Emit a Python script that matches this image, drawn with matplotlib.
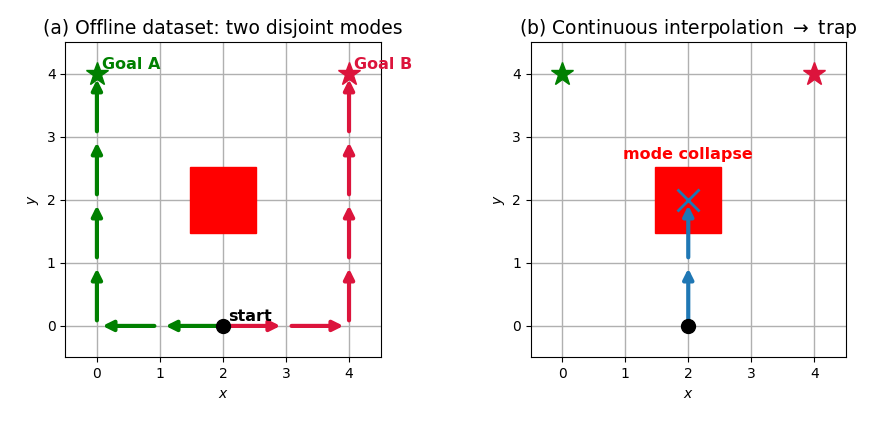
import matplotlib
matplotlib.use('Agg')
import matplotlib.pyplot as plt
from matplotlib.patches import Rectangle

start = (2, 0)
goal_a = (0, 4)
goal_b = (4, 4)
obstacle_center = (2, 2)
obstacle_size = 1.05
path_a = [(2, 0), (1, 0), (0, 0), (0, 1), (0, 2), (0, 3), (0, 4)]
path_b = [(2, 0), (3, 0), (4, 0), (4, 1), (4, 2), (4, 3), (4, 4)]
path_interp = [(2, 0), (2, 1), (2, 2)]


def draw_path(ax, pts, color):
    for (x0, y0), (x1, y1) in zip(pts[:-1], pts[1:]):
        ax.annotate('', xy=(x1, y1), xytext=(x0, y0),
                    arrowprops=dict(arrowstyle='-|>', color=color, lw=3,
                                    mutation_scale=15, shrinkA=4, shrinkB=4),
                    zorder=3)


def setup(ax, title):
    ax.set_xlim(-0.5, 4.5)
    ax.set_ylim(-0.5, 4.5)
    ax.set_aspect('equal')
    ax.grid(True, color='#b0b0b0', lw=1)
    ax.set_axisbelow(True)
    ax.set_xticks(range(5))
    ax.set_yticks(range(5))
    ax.set_xlabel('$x$')
    ax.set_ylabel('$y$')
    ax.set_title(title, fontsize=13.5)
    cx, cy = obstacle_center
    ax.add_patch(Rectangle((cx - obstacle_size / 2, cy - obstacle_size / 2),
                           obstacle_size, obstacle_size, color='red', zorder=2))


fig, (ax1, ax2) = plt.subplots(1, 2, figsize=(8.96, 4.23), dpi=100)
fig.subplots_adjust(left=0.066, right=0.951, bottom=0.155, top=0.9, wspace=0.42)

setup(ax1, '(a) Offline dataset: two disjoint modes')
draw_path(ax1, path_a, 'green')
draw_path(ax1, path_b, 'crimson')
ax1.plot(*start, 'o', color='black', ms=10, zorder=4)
ax1.text(2.08, 0.08, 'start', fontweight='bold', fontsize=11.5)
ax1.plot(*goal_a, '*', color='green', ms=17, zorder=4)
ax1.plot(*goal_b, '*', color='crimson', ms=17, zorder=4)
ax1.text(0.08, 4.08, 'Goal A', color='green', fontweight='bold', fontsize=11.5)
ax1.text(4.08, 4.08, 'Goal B', color='crimson', fontweight='bold', fontsize=11.5)

setup(ax2, r'(b) Continuous interpolation $\rightarrow$ trap')
draw_path(ax2, path_interp, '#1f77b4')
ax2.plot(*start, 'o', color='black', ms=10, zorder=4)
ax2.plot(*path_interp[-1], 'x', color='#1f77b4', ms=16, mew=2, zorder=4)
ax2.plot(*goal_a, '*', color='green', ms=17, zorder=4)
ax2.plot(*goal_b, '*', color='crimson', ms=17, zorder=4)
ax2.text(2, 2.65, 'mode collapse', color='red', fontweight='bold',
         fontsize=11.5, ha='center')

fig.savefig('out.png', dpi=100)
